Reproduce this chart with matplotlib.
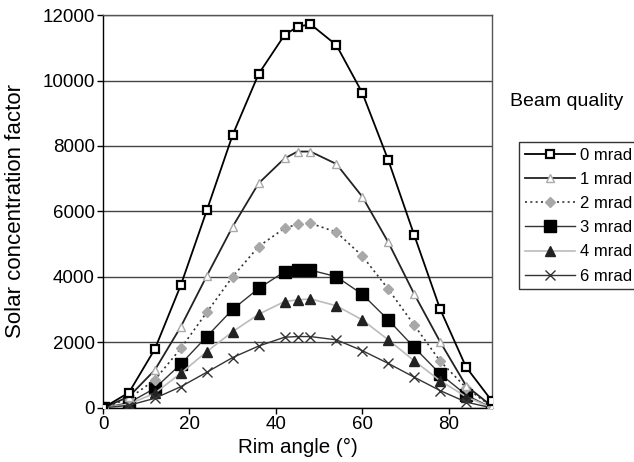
# plot.py
# Solar concentration factor vs rim angle for several beam qualities

import matplotlib
matplotlib.use("Agg")
import matplotlib.pyplot as plt

# ── Data ──────────────────────────────────────────────────
rim_angle = [0, 6, 12, 18, 24, 30, 36, 42, 45, 48, 54, 60, 66, 72, 78, 84, 90]

mrad_0 = [0, 470, 1800, 3750, 6030, 8340, 10200, 11390, 11640, 11720,
          11080, 9620, 7570, 5280, 3020, 1250, 210]
mrad_1 = [0, 345, 1160, 2480, 4030, 5540, 6860, 7620, 7830, 7830,
          7450, 6450, 5060, 3480, 2020, 680, 50]
mrad_2 = [0, 290, 860, 1820, 2920, 4010, 4930, 5490, 5610, 5640,
          5370, 4640, 3630, 2530, 1430, 620, 30]
mrad_3 = [0, 160, 600, 1340, 2180, 3010, 3650, 4160, 4210, 4210,
          4010, 3470, 2690, 1850, 1040, 400, 0]
mrad_4 = [0, 120, 450, 1060, 1720, 2330, 2860, 3250, 3300, 3330,
          3120, 2690, 2080, 1440, 830, 345, 0]
mrad_6 = [0, 80, 295, 650, 1090, 1540, 1890, 2160, 2180, 2180,
          2080, 1750, 1360, 940, 530, 180, 0]

labels = ["0 mrad", "1 mrad", "2 mrad", "3 mrad", "4 mrad", "6 mrad"]

# ── Style ─────────────────────────────────────────────────
plt.rcParams['font.family'] = ['Liberation Sans', 'DejaVu Sans']

fig = plt.figure(figsize=(6.34, 4.62), dpi=100)
ax = fig.add_axes([0.1625, 0.117, 0.776 - 0.1625, 0.9675 - 0.117])

ax.plot(rim_angle, mrad_0, color='black', lw=1.3, marker='s', ms=6,
        mfc='white', mec='black', mew=1.6, label=labels[0], zorder=6)
ax.plot(rim_angle, mrad_1, color='#222222', lw=1.3, marker='^', ms=6,
        mfc='white', mec='#aaaaaa', mew=1.0, label=labels[1], zorder=5)
ax.plot(rim_angle, mrad_2, color='#333333', lw=1.2, ls=(0, (1.2, 2)),
        marker='D', ms=5.5, mfc='#a8a8a8', mec='#a8a8a8',
        label=labels[2], zorder=4)
ax.plot(rim_angle, mrad_3, color='#333333', lw=1.0, marker='s', ms=8,
        mfc='black', mec='black', label=labels[3], zorder=3)
ax.plot(rim_angle, mrad_4, color='#bbbbbb', lw=1.2, marker='^', ms=7,
        mfc='#222222', mec='#222222', label=labels[4], zorder=3)
ax.plot(rim_angle, mrad_6, color='#333333', lw=1.0, marker='x', ms=7,
        mec='#333333', mew=1.0, label=labels[5], zorder=3)

# ── Axes ──────────────────────────────────────────────────
ax.set_xlim(0, 90)
ax.set_ylim(0, 12000)
ax.set_xticks([0, 20, 40, 60, 80])
ax.set_yticks(range(0, 12001, 2000))
ax.tick_params(labelsize=13.5, direction='out', length=4, width=1, pad=2)
ax.yaxis.grid(True, color='#444444', lw=1)
ax.set_axisbelow(True)
for s in ax.spines.values():
    s.set_color('#555555')
    s.set_linewidth(1)
ax.spines['left'].set_color('black')
ax.spines['bottom'].set_color('black')

ax.set_xlabel('Rim angle (°)', fontsize=14.8, labelpad=3)
ax.set_ylabel('Solar concentration factor', fontsize=16, labelpad=4)
ax.yaxis.set_label_coords(-0.198, 0.5)

# ── Legend ────────────────────────────────────────────────
fig.text(510 / 634, 1 - 102 / 462, 'Beam quality', fontsize=14,
         ha='left', va='center')
leg = ax.legend(loc='upper left', bbox_to_anchor=(519 / 634, 1 - 142 / 462),
                bbox_transform=fig.transFigure, fontsize=12,
                frameon=True, fancybox=False, handlelength=3,
                handletextpad=0.3, labelspacing=0.55, borderpad=0.35,
                borderaxespad=0)
leg.get_frame().set_edgecolor('black')
leg.get_frame().set_linewidth(1)

fig.savefig('out.png', dpi=100)
